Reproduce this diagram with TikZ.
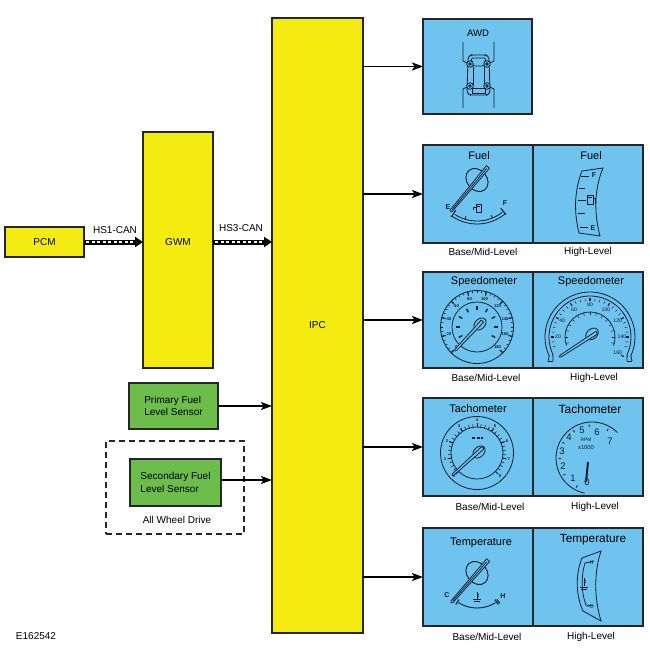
\documentclass[tikz,border=0pt]{standalone}
\usepackage{fontspec}
\setmainfont{Liberation Sans}
\usetikzlibrary{arrows.meta,calc}
\definecolor{ipcyellow}{RGB}{244,236,16}
\definecolor{sensgreen}{RGB}{108,189,74}
\definecolor{dispblue}{RGB}{110,196,238}
\definecolor{gline}{RGB}{20,28,45}
\begin{document}
\begin{tikzpicture}[x=1pt,y=-1pt,
  box/.style={draw=black!85, line width=1.1pt, inner sep=0pt, outer sep=0pt},
  ybox/.style={box, fill=ipcyellow},
  gbox/.style={box, fill=sensgreen, align=left, font=\fontsize{10}{12.5}\selectfont},
  bbox/.style={box, fill=dispblue, minimum width=110pt},
  lbl/.style={font=\fontsize{10}{12}\selectfont, inner sep=0pt},
  ttl/.style={font=\fontsize{11}{13}\selectfont, inner sep=0pt},
  tinynum/.style={font=\fontsize{4.2}{4.5}\selectfont\bfseries, inner sep=0pt, text=gline},
  gaugelet/.style={font=\fontsize{7}{8}\selectfont\bfseries, inner sep=0pt, text=gline},
  tachnum/.style={font=\fontsize{9.5}{10}\selectfont, inner sep=0pt, text=gline},
  conn/.style={line width=1.8pt, -{Stealth[length=11pt,width=8pt,inset=2.5pt]}},
  gl/.style={draw=gline, line width=0.75pt},
  needle/.style={draw=gline, fill=dispblue, line width=0.75pt},
  gauge/.style={y=1pt},
]
\useasboundingbox (0,0) rectangle (650,650);

% ---------- main blocks ----------
\node[ybox, minimum width=79pt, minimum height=30pt, lbl] (pcm) at (44.5,242) {PCM};
\node[ybox, minimum width=70pt, minimum height=236pt] (gwm) at (178,250) {};
\node[lbl] (gwmlbl) at (178,242) {GWM};
\node[ybox, minimum width=91pt, minimum height=615pt, lbl] (ipc) at (317.5,325.5) {IPC};

\node[gbox, minimum width=89pt, minimum height=46pt] (prim) at (173.5,406) {Primary Fuel\\Level Sensor};
\node[gbox, minimum width=91pt, minimum height=47pt] (sec) at (175.5,482.5) {Secondary Fuel\\Level Sensor};
\node[draw=black!85, line width=1.1pt, dash pattern=on 6pt off 4pt, minimum width=138pt, minimum height=93pt, inner sep=0pt] (awdgroup) at (175,487.5) {};
\node[lbl] (awdlbl) at (177,520) {All Wheel Drive};
\node[lbl] (ref) at (36,636) {E162542};

% ---------- CAN links ----------
\draw[line width=5pt, -{Triangle[length=8pt,width=10pt]}] (pcm.east) -- (pcm.east -| gwm.west);
\draw[white, line width=1.8pt, dash pattern=on 3pt off 2.5pt, shorten >=9pt, shorten <=2pt] (pcm.east) -- (pcm.east -| gwm.west);
\node[lbl] (hs1) at (115,230) {HS1-CAN};
\draw[line width=5pt, -{Triangle[length=8pt,width=10pt]}] (gwm.east |- pcm.east) -- (pcm.east -| ipc.west);
\draw[white, line width=1.8pt, dash pattern=on 3pt off 2.5pt, shorten >=9pt, shorten <=2pt] (gwm.east |- pcm.east) -- (pcm.east -| ipc.west);
\node[lbl] (hs3) at (241,228) {HS3-CAN};

\draw[conn] (prim.east) -- (prim.east -| ipc.west);
\draw[conn] (sec.east |- 0,480) -- (ipc.west |- 0,480);

% ---------- display boxes ----------
\node[bbox, minimum width=109pt, minimum height=95pt] (awd) at (477.5,66.5) {};
\node[ttl, font=\fontsize{9.5}{11}\selectfont] (awdt) at (478,33) {AWD};

\node[bbox, minimum height=98pt] (fuelL) at (478,194) {};
\node[bbox, minimum height=98pt] (fuelR) at (588,194) {};
\node[ttl] (fuelLt) at (479,156) {Fuel};
\node[ttl] (fuelRt) at (591,156) {Fuel};
\node[lbl] (fuelLc) at (483,252) {Base/Mid-Level};
\node[lbl] (fuelRc) at (588,252) {High-Level};

\node[bbox, minimum height=96pt] (spdL) at (478,320) {};
\node[bbox, minimum height=96pt] (spdR) at (588,320) {};
\node[ttl] (spdLt) at (484,282) {Speedometer};
\node[ttl] (spdRt) at (591,282) {Speedometer};
\node[lbl] (spdLc) at (486,378) {Base/Mid-Level};
\node[lbl] (spdRc) at (594,378) {High-Level};

\node[bbox, minimum height=98pt] (tacL) at (478,447) {};
\node[bbox, minimum height=98pt] (tacR) at (588,447) {};
\node[ttl] (tacLt) at (478,409) {Tachometer};
\node[ttl, font=\fontsize{12}{14}\selectfont] (tacRt) at (590,409) {Tachometer};
\node[lbl] (tacLc) at (490,507) {Base/Mid-Level};
\node[lbl] (tacRc) at (595,507) {High-Level};

\node[bbox, minimum height=98pt] (tmpL) at (478,577) {};
\node[bbox, minimum height=98pt] (tmpR) at (588,577) {};
\node[ttl] (tmpLt) at (481,543) {Temperature};
\node[ttl, font=\fontsize{11.8}{14}\selectfont] (tmpRt) at (593,540) {Temperature};
\node[lbl] (tmpLc) at (487,637) {Base/Mid-Level};
\node[lbl] (tmpRc) at (591,637) {High-Level};

% ---------- IPC outputs ----------
\draw[conn] (ipc.east |- awd.west) -- (awd.west);
\draw[conn] (ipc.east |- fuelL.west) -- (fuelL.west);
\draw[conn] (ipc.east |- spdL.west) -- (spdL.west);
\draw[conn] (ipc.east |- tacL.west) -- (tacL.west);
\draw[conn] (ipc.east |- tmpL.west) -- (tmpL.west);

% ---------- AWD icon ----------
\begin{scope}[gl, line width=0.8pt]
  \draw (463,42) -- (463,61) -- (467,63);
  \draw (494,42) -- (494,61) -- (490,63);
  \draw (467,87) -- (463,89) -- (463,108);
  \draw (490,87) -- (494,89) -- (494,108);
  \draw[rounded corners=2.5pt] (468,57) -- (471,55) -- (486,55) -- (489,57) -- (490,93) -- (487,95) -- (470,95) -- (467,93) -- cycle;
  \draw[rounded corners=1.5pt] (471,58) -- (486,58) -- (484,66) -- (473,66) -- cycle;
  \draw (473,67) -- (473,85) (484,67) -- (484,85);
  \draw (472,88) rectangle (485,93);
  \foreach \p in {(470,64),(487,64),(470,86),(487,86)} {
    \draw[fill=dispblue] \p circle (3.3);
    \draw \p circle (1.3);
  }
\end{scope}

% ---------- Fuel base gauge ----------
\begin{scope}[shift={(477,180)}, gauge]
  \draw[gl, line width=0.9pt, rotate=40] (0,0) ellipse (10 and 12.5);
  \draw[needle, rotate=230] (-17,-2) -- (40,-1.3) -- (41.5,0) -- (40,1.3) -- (-17,2) -- cycle;
  \draw[gl, rotate=230] (-15,0) -- (39,0);
  \draw[gl, line width=0.8pt] (235:44) arc (235:310:44);
  \draw[gl, line width=0.8pt] (237:41) arc (237:308:41);
  \foreach \a in {253,292} \draw[gl, line width=0.9pt] (\a:41) -- (\a:38);
  \draw[gl, line width=1.1pt] (235:45) -- (235:37);
  \draw[gl, line width=1.1pt] (310:45) -- (310:37);
  \node[gaugelet] (fE) at (-29,-27) {E};
  \node[gaugelet] (fF) at (28,-23) {F};
  \draw[gl] (-1,-24) rectangle (4,-32);
  \draw[gl] (0,-26) -- (3,-26);
  \draw[gl] (-1,-27) -- (-4,-27) -- (-4,-30);
\end{scope}

% ---------- Fuel high gauge ----------
\draw[gl, line width=0.8pt] (582,171) .. controls (574,191) and (574,213) .. (579,233) -- (600,236) .. controls (594,213) and (594,190) .. (603,168) -- cycle;
\draw[gl] (581,176) -- (589,176) (579,188) -- (585,188) (578,213) -- (585,213) (580,227) -- (588,227);
\draw[gl] (578,200) -- (586,200);
\node[gaugelet] (frF) at (594,175) {F};
\node[gaugelet] (frE) at (593,228) {E};
\draw[gl] (587,195) rectangle (593,204);
\draw[gl] (588,197) -- (592,197);
\draw[gl] (593,198) -- (595,198) -- (595,203);

% ---------- Speedometer base ----------
\begin{scope}[shift={(477,327)}, gauge]
  \draw[gl, line width=0.8pt] (0,0) circle (36.5);
  \draw[gl] (0,0) circle (25);
  \foreach \a in {225,217.5,...,-45} \draw[gl, line width=0.5pt] (\a:34) -- (\a:36.5);
  \foreach \a in {225,195,...,-45} \draw[gl, line width=1.1pt] (\a:32.5) -- (\a:36.5);
  \foreach \v [count=\i from 0] in {0,20,40,60,80,100,120,140,160,180}
    \node[tinynum] (sb\i) at ({225-30*\i}:29) {\v};
  \foreach \a in {210,180,...,-30} \draw[gl, line width=1.3pt] (\a:17) -- (\a:21);
  \draw[gl, line width=0.8pt, rotate around={45:(3,3)}] (3,3) ellipse (7 and 5);
  \draw[needle, rotate=227] (-8,-1.6) -- (31,-1) -- (32.5,0) -- (31,1) -- (-8,1.6) -- cycle;
\end{scope}

% ---------- Speedometer high ----------
\begin{scope}[shift={(590,337)}, gauge]
  \draw[gl, line width=0.8pt] (-42,-24) -- (205:45) arc (205:-25:45) -- (42,-24);
  \draw[gl, line width=0.8pt] (-37,-24) -- (205:41) arc (205:-25:41) -- (37,-24);
  \draw[gl] (-42,-24) -- (-37,-24) (42,-24) -- (37,-24);
  \foreach \a in {195,187.5,...,-15} \draw[gl, line width=0.5pt] (\a:36) -- (\a:38.5);
  \foreach \v [count=\i from 0] in {20,40,60,80,100,120,140,160}
    { \node[tinynum, font=\fontsize{5.2}{5.5}\selectfont] (sh\i) at ({180-30*\i}:32) {\v};
      \draw[gl, line width=1.1pt] ({180-30*\i}:36) -- ({180-30*\i}:39); }
  \draw[gl] (200:25) arc (200:-20:25);
  \foreach \a in {195,180,...,-15} \draw[gl, line width=0.5pt] (\a:22) -- (\a:25);
  \draw[gl, line width=0.8pt, rotate around={40:(2,3)}] (2,3) ellipse (7 and 5);
  \draw[needle, rotate=213] (-8,-1.6) -- (35,-1) -- (36.5,0) -- (35,1) -- (-8,1.6) -- cycle;
\end{scope}

% ---------- Tachometer base ----------
\begin{scope}[shift={(477,453)}, gauge]
  \draw[gl, line width=0.8pt] (0,0) circle (36.5);
  \draw[gl] (0,0) circle (26);
  \foreach \a in {225,216.5625,...,-45} \draw[gl, line width=0.6pt] (\a:26) -- (\a:29);
  \foreach \v [count=\i from 0] in {0,1,2,3,4,5,6,7,8}
    { \node[tinynum] (tb\i) at ({225-33.75*\i}:32.5) {\v};
      \draw[gl, line width=1pt] ({225-33.75*\i}:26) -- ({225-33.75*\i}:30); }
  \draw[gl, line width=1.4pt, dash pattern=on 3pt off 1.5pt] (-5,15) -- (6,15);
  \draw[gl, line width=0.8pt, rotate around={45:(2,1)}] (2,1) ellipse (7 and 5);
  \draw[needle, rotate=222] (-8,-1.6) -- (32,-1) -- (33.5,0) -- (32,1) -- (-8,1.6) -- cycle;
\end{scope}

% ---------- Tachometer high ----------
\begin{scope}[shift={(592,458)}, gauge]
  \draw[gl, line width=0.8pt] (45:36) arc (45:258:36);
  \foreach \a in {242,211,181,152,124,95,61} \draw[gl, line width=0.8pt] (\a:31) -- (\a:33.5);
\end{scope}
\node[tachnum] (t0) at (587,482) {0};
\node[tachnum] (t1) at (573,478) {1};
\node[tachnum] (t2) at (563,466) {2};
\node[tachnum] (t3) at (562,451) {3};
\node[tachnum] (t4) at (569,437) {4};
\node[tachnum] (t5) at (582,430) {5};
\node[tachnum] (t6) at (597,432) {6};
\node[tachnum] (t7) at (610,441) {7};
\node[inner sep=0pt, font=\fontsize{4.8}{5}\selectfont, text=gline] (rpm) at (586,440) {RPM};
\node[inner sep=0pt, font=\fontsize{5.8}{6}\selectfont, text=gline] (x1000) at (586,447) {x1000};
\draw[gline, line width=2pt] (588,462) -- (586,482);

% ---------- Temperature base ----------
\begin{scope}[shift={(477,573)}, gauge]
  \draw[gl, line width=0.9pt, rotate=40] (0,0) ellipse (10 and 12.5);
  \draw[needle, rotate=229] (-17,-2) -- (38,-1.3) -- (39.5,0) -- (38,1.3) -- (-17,2) -- cycle;
  \draw[gl, rotate=229] (-15,0) -- (37,0);
  \draw[gl, line width=0.9pt] (238:35) arc (238:302:35);
  \draw[gl, line width=1.1pt] (236:38) -- (236:32);
  \draw[gl, line width=1.1pt] (304:38) -- (304:32);
  \draw[gl, line width=1.1pt] (307:38) -- (307:33);
  \node[gaugelet] (tC) at (-30,-22) {C};
  \node[gaugelet] (tH) at (26,-23) {H};
  \draw[gl] (0,-19) -- (0,-26) (-4,-26) -- (4,-26) (-3,-28) -- (3,-28);
  \draw[gl] (0,-21) -- (2,-21) (0,-23) -- (2,-23);
\end{scope}

% ---------- Temperature high ----------
\draw[gl, line width=0.8pt] (582,558) .. controls (575,575) and (576,596) .. (583,611) -- (601,621) .. controls (594,598) and (594,572) .. (601,551) -- cycle;
\draw[gl] (594,561) -- (585,563) .. controls (581,576) and (581,592) .. (586,605) -- (594,606);
\node[inner sep=0pt, font=\fontsize{5.5}{6}\selectfont, text=gline] (thH) at (590,563) {--H};
\node[inner sep=0pt, font=\fontsize{5.5}{6}\selectfont, text=gline] (thC) at (590,607) {--C};
\draw[gl] (584,578) -- (584,586) (580,587) -- (588,587) (581,589) -- (587,589);
\draw[gl] (584,580) -- (586,580) (584,582) -- (586,582);

\end{tikzpicture}
\end{document}
